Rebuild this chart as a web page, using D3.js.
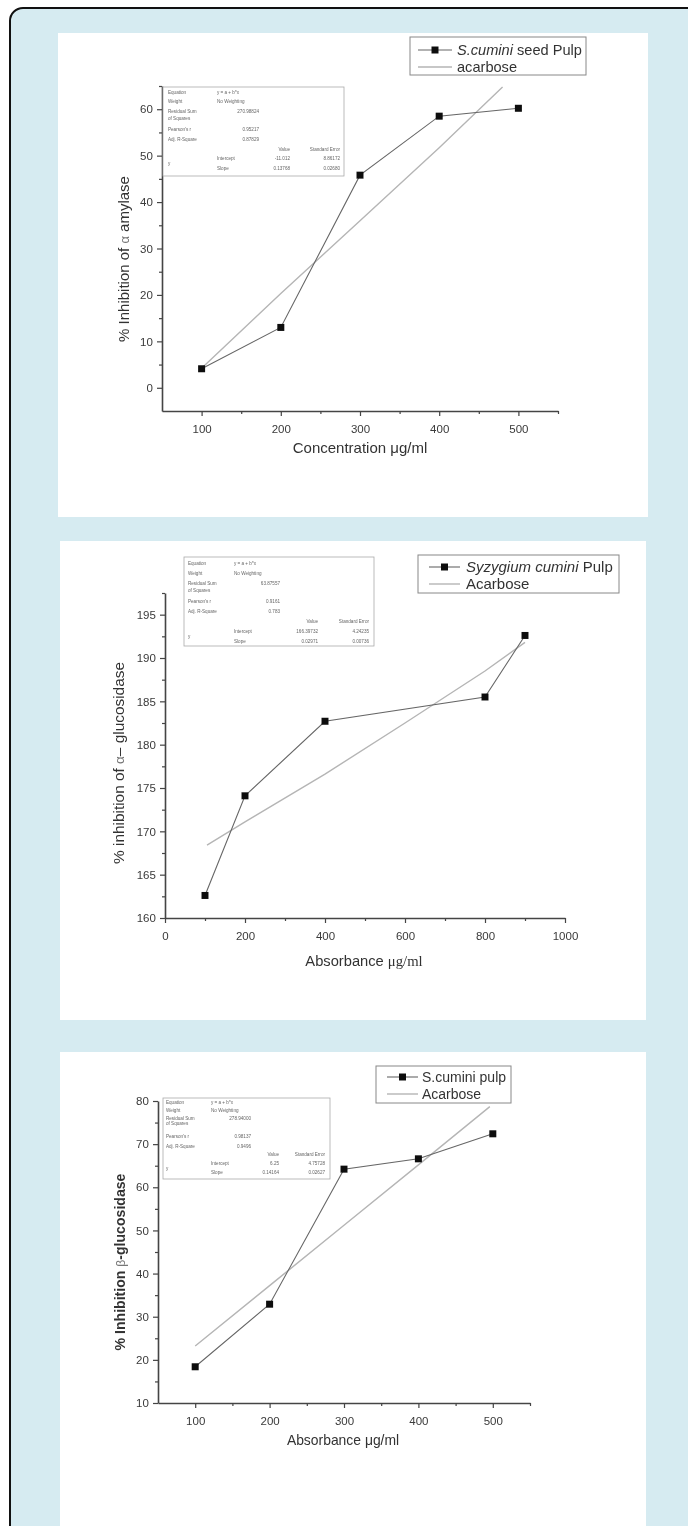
<!DOCTYPE html>
<html>
<head>
<meta charset="utf-8">
<script src="https://cdn.jsdelivr.net/npm/d3@7"></script>
<style>
  body { margin: 0; background: #fff; }
  svg { display: block; }
</style>
</head>
<body>
<div id="chart"></div>
<script>
// ---- data ----
// panel 1 : alpha amylase
var amylaseConc = [100, 200, 300, 400, 500];
var amylaseInhib = [4.1, 13.0, 45.8, 58.5, 60.2];
var amylaseAcarboseX = [100, 200, 300, 400, 480];
var amylaseAcarboseY = [4.2, 20.3, 36.0, 51.7, 64.8];
var amylaseXTicks = [100, 200, 300, 400, 500];
var amylaseYTicks = [0, 10, 20, 30, 40, 50, 60];
var amylaseStats = [
  ["Equation", "y = a + b*x"],
  ["Weight", "No Weighting"],
  ["Residual Sum", "270.98824"],
  ["Pearson's r", "0.95217"],
  ["Adj. R-Square", "0.87829"],
  ["Intercept", "-11.012", "8.86172"],
  ["Slope", "0.13768", "0.02680"]
];

// panel 2 : alpha glucosidase
var alphaConc = [100, 200, 400, 800, 900];
var alphaInhib = [162.6, 174.1, 182.7, 185.5, 192.6];
var alphaAcarboseX = [105, 200, 400, 600, 800, 900];
var alphaAcarboseY = [168.4, 171.1, 176.6, 182.5, 188.5, 191.8];
var alphaXTicks = [0, 200, 400, 600, 800, 1000];
var alphaYTicks = [160, 165, 170, 175, 180, 185, 190, 195];
var alphaStats = [
  ["Equation", "y = a + b*x"],
  ["Weight", "No Weighting"],
  ["Residual Sum", "63.87557"],
  ["Pearson's r", "0.9161"],
  ["Adj. R-Square", "0.783"],
  ["Intercept", "166.39732", "4.24235"],
  ["Slope", "0.02971", "0.00736"]
];

// panel 3 : beta glucosidase
var betaConc = [100, 200, 300, 400, 500];
var betaInhib = [18.4, 32.9, 64.2, 66.6, 72.4];
var betaAcarboseX = [100, 200, 300, 400, 496];
var betaAcarboseY = [23.2, 37.2, 51.2, 65.2, 78.7];
var betaXTicks = [100, 200, 300, 400, 500];
var betaYTicks = [10, 20, 30, 40, 50, 60, 70, 80];
var betaStats = [
  ["Equation", "y = a + b*x"],
  ["Weight", "No Weighting"],
  ["Residual Sum", "278.94000"],
  ["Pearson's r", "0.98137"],
  ["Adj. R-Square", "0.9496"],
  ["Intercept", "6.25", "4.75728"],
  ["Slope", "0.14164", "0.02627"]
];

var W = 688, H = 1526;
var svg = d3.select("#chart").append("svg").attr("width", W).attr("height", H);

// light blue page with rounded black frame (right/bottom run off the picture)
svg.append("rect").attr("width", W).attr("height", H).attr("fill", "#fff");
svg.append("rect")
  .attr("x", 10).attr("y", 8).attr("width", 700).attr("height", 1560)
  .attr("rx", 13).attr("ry", 13)
  .attr("fill", "#d6ebf1").attr("stroke", "#111").attr("stroke-width", 2);

var defs = svg.append("defs");
defs.append("filter").attr("id", "soft")
  .append("feGaussianBlur").attr("stdDeviation", 0.45);

var FONT = "'Liberation Sans', Arial, sans-serif";

function zip(a, b) { return a.map(function (d, i) { return [d, b[i]]; }); }

function drawPanel(cfg) {
  svg.append("rect")
    .attr("x", cfg.box[0]).attr("y", cfg.box[1])
    .attr("width", cfg.box[2]).attr("height", cfg.box[3])
    .attr("fill", "#fff");

  var g = svg.append("g").attr("filter", "url(#soft)");

  var x = d3.scaleLinear().domain(cfg.xDomain).range(cfg.xRange);
  var y = d3.scaleLinear().domain(cfg.yDomain).range(cfg.yRange);

  // minor ticks half way between majors
  var xMinor = [], yMinor = [];
  var xs = cfg.xTicks[1] - cfg.xTicks[0], ys = cfg.yTicks[1] - cfg.yTicks[0];
  for (var v = cfg.xTicks[0] - xs / 2; v <= cfg.xDomain[1]; v += xs)
    if (v > cfg.xDomain[0] && cfg.xTicks.indexOf(v) < 0) xMinor.push(v);
  for (var v2 = cfg.yTicks[0] - ys / 2; v2 <= cfg.yDomain[1]; v2 += ys)
    if (v2 > cfg.yDomain[0] && cfg.yTicks.indexOf(v2) < 0) yMinor.push(v2);

  var xAxis = g.append("g").attr("transform", "translate(0," + cfg.yRange[0] + ")")
    .call(d3.axisBottom(x).tickValues(cfg.xTicks).tickSize(5).tickSizeOuter(0).tickFormat(d3.format("d")));
  g.append("g").attr("transform", "translate(0," + cfg.yRange[0] + ")")
    .call(d3.axisBottom(x).tickValues(xMinor).tickSize(3).tickSizeOuter(0).tickFormat(""))
    .select(".domain").remove();
  var yAxis = g.append("g").attr("transform", "translate(" + cfg.xRange[0] + ",0)")
    .call(d3.axisLeft(y).tickValues(cfg.yTicks).tickSize(5).tickSizeOuter(0).tickFormat(d3.format("d")));
  g.append("g").attr("transform", "translate(" + cfg.xRange[0] + ",0)")
    .call(d3.axisLeft(y).tickValues(yMinor).tickSize(3).tickSizeOuter(0).tickFormat(""))
    .select(".domain").remove();

  g.selectAll(".domain").attr("stroke", "#444").attr("stroke-width", 1.6);
  g.selectAll(".tick line").attr("stroke", "#444").attr("stroke-width", 1.2);
  g.selectAll(".tick text").attr("fill", "#3a3a3a")
    .style("font-family", FONT).style("font-size", "11.5px");
  xAxis.selectAll(".tick text").attr("dy", "1.2em");
  yAxis.selectAll(".tick text").attr("dx", "-0.1em");

  // stats table (Origin fit report)
  var sb = cfg.stats;
  g.append("rect").attr("x", sb.x).attr("y", sb.y).attr("width", sb.w).attr("height", sb.h)
    .attr("fill", "#fff").attr("stroke", "#aaa").attr("stroke-width", 0.8);
  var st = g.append("g").style("font-family", FONT).style("font-size", "4.6px").attr("fill", "#666");
  var r = sb.rows;
  var rows = cfg.statsData;
  st.append("text").attr("x", sb.c1).attr("y", r[0]).text(rows[0][0]);
  st.append("text").attr("x", sb.c2).attr("y", r[0]).text(rows[0][1]);
  st.append("text").attr("x", sb.c1).attr("y", r[1]).text(rows[1][0]);
  st.append("text").attr("x", sb.c2).attr("y", r[1]).text(rows[1][1]);
  st.append("text").attr("x", sb.c1).attr("y", r[2]).text(rows[2][0]);
  st.append("text").attr("x", sb.c1).attr("y", r[3]).text("of Squares");
  st.append("text").attr("x", sb.v1).attr("y", r[2]).attr("text-anchor", "end").text(rows[2][1]);
  st.append("text").attr("x", sb.c1).attr("y", r[4]).text(rows[3][0]);
  st.append("text").attr("x", sb.v1).attr("y", r[4]).attr("text-anchor", "end").text(rows[3][1]);
  st.append("text").attr("x", sb.c1).attr("y", r[5]).text(rows[4][0]);
  st.append("text").attr("x", sb.v1).attr("y", r[5]).attr("text-anchor", "end").text(rows[4][1]);
  st.append("text").attr("x", sb.v2).attr("y", r[6]).attr("text-anchor", "end").text("Value");
  st.append("text").attr("x", sb.v3).attr("y", r[6]).attr("text-anchor", "end").text("Standard Error");
  st.append("text").attr("x", sb.c1).attr("y", (r[7] + r[8]) / 2).text("y");
  [5, 6].forEach(function (k, i) {
    st.append("text").attr("x", sb.c2).attr("y", r[7 + i]).text(rows[k][0]);
    st.append("text").attr("x", sb.v2).attr("y", r[7 + i]).attr("text-anchor", "end").text(rows[k][1]);
    st.append("text").attr("x", sb.v3).attr("y", r[7 + i]).attr("text-anchor", "end").text(rows[k][2]);
  });

  // acarbose reference line
  var line = d3.line().x(function (d) { return x(d[0]); }).y(function (d) { return y(d[1]); });
  g.append("path").datum(zip(cfg.acX, cfg.acY)).attr("d", line)
    .attr("fill", "none").attr("stroke", "#b5b5b5").attr("stroke-width", 1.4);

  // sample line with square markers
  var pts = zip(cfg.dataX, cfg.dataY);
  g.append("path").datum(pts).attr("d", line)
    .attr("fill", "none").attr("stroke", "#666").attr("stroke-width", 1.1);
  g.selectAll(".mk").data(pts).enter().append("rect")
    .attr("x", function (d) { return x(d[0]) - 3.5; })
    .attr("y", function (d) { return y(d[1]) - 3.5; })
    .attr("width", 7).attr("height", 7).attr("fill", "#111");

  // legend
  var lg = cfg.legend;
  g.append("rect").attr("x", lg.x).attr("y", lg.y).attr("width", lg.w).attr("height", lg.h)
    .attr("fill", "#fff").attr("stroke", "#888").attr("stroke-width", 1);
  g.append("line").attr("x1", lg.l0).attr("x2", lg.l1).attr("y1", lg.r1).attr("y2", lg.r1)
    .attr("stroke", "#666").attr("stroke-width", 1.1);
  g.append("rect").attr("x", (lg.l0 + lg.l1) / 2 - 3.5).attr("y", lg.r1 - 3.5)
    .attr("width", 7).attr("height", 7).attr("fill", "#111");
  g.append("line").attr("x1", lg.l0).attr("x2", lg.l1).attr("y1", lg.r2).attr("y2", lg.r2)
    .attr("stroke", "#b5b5b5").attr("stroke-width", 1.4);
  var t1 = g.append("text").attr("x", lg.tx).attr("y", lg.r1 + 5)
    .style("font-family", FONT).style("font-size", lg.fs + "px").attr("fill", "#333");
  lg.label1.forEach(function (p) {
    t1.append("tspan").style("font-style", p[1] ? "italic" : "normal").text(p[0]);
  });
  g.append("text").attr("x", lg.tx).attr("y", lg.r2 + 5)
    .style("font-family", FONT).style("font-size", lg.fs + "px").attr("fill", "#333")
    .text(lg.label2);

  // axis titles
  var xt = g.append("text").attr("x", cfg.xTitle[0]).attr("y", cfg.xTitle[1])
    .attr("text-anchor", "middle").style("font-family", FONT).style("font-size", cfg.titleFs + "px")
    .attr("fill", "#333");
  cfg.xTitleParts.forEach(function (p) {
    xt.append("tspan").style("font-family", p[1] ? "'Liberation Serif', serif" : FONT).text(p[0]);
  });
  var yt = g.append("text")
    .attr("transform", "translate(" + cfg.yTitle[0] + "," + cfg.yTitle[1] + ") rotate(-90)")
    .attr("text-anchor", "middle").style("font-family", FONT).style("font-size", cfg.yTitleFs + "px")
    .style("font-weight", cfg.yBold ? "bold" : "normal").attr("fill", "#333");
  cfg.yTitleParts.forEach(function (p) {
    yt.append("tspan").style("font-weight", p[1] ? "normal" : null)
      .style("font-size", p[1] ? (cfg.yTitleFs - 2) + "px" : null).attr("fill", p[1] ? "#777" : null).text(p[0]);
  });
}

drawPanel({
  box: [58, 33, 590, 484],
  xDomain: [50, 550], xRange: [162, 558],
  yDomain: [-5, 65], yRange: [411, 86],
  xTicks: amylaseXTicks, yTicks: amylaseYTicks,
  dataX: amylaseConc, dataY: amylaseInhib,
  acX: amylaseAcarboseX, acY: amylaseAcarboseY,
  statsData: amylaseStats,
  stats: { x: 163, y: 87, w: 181, h: 89, c1: 168, c2: 217, v1: 259, v2: 290, v3: 340,
           rows: [94, 103, 113, 120, 131, 141, 151, 160, 170] },
  legend: { x: 410, y: 37, w: 176, h: 38, l0: 418, l1: 452, r1: 50, r2: 67, tx: 457, fs: 14.6,
            label1: [["S.cumini", true], [" seed Pulp", false]], label2: "acarbose" },
  titleFs: 15,
  xTitle: [360, 453], xTitleParts: [["Concentration ", false], ["μg/ml", false]],
  yTitleFs: 15,
  yTitle: [129, 259], yTitleParts: [["% Inhibition of ", false], ["α", true], ["  amylase", false]]
});

drawPanel({
  box: [60, 541, 586, 479],
  xDomain: [0, 1000], xRange: [165, 565],
  yDomain: [160, 197.5], yRange: [918, 593],
  xTicks: alphaXTicks, yTicks: alphaYTicks,
  dataX: alphaConc, dataY: alphaInhib,
  acX: alphaAcarboseX, acY: alphaAcarboseY,
  statsData: alphaStats,
  stats: { x: 184, y: 557, w: 190, h: 89, c1: 188, c2: 234, v1: 280, v2: 318, v3: 369,
           rows: [565, 575, 585, 592, 603, 613, 623, 633, 643] },
  legend: { x: 418, y: 555, w: 201, h: 38, l0: 429, l1: 460, r1: 567, r2: 584, tx: 466, fs: 15,
            label1: [["Syzygium cumini", true], [" Pulp", false]], label2: "Acarbose" },
  titleFs: 14.7,
  xTitle: [364, 966], xTitleParts: [["Absorbance ", false], ["μg/ml", true]],
  yTitleFs: 15.4,
  yTitle: [124, 763], yTitleParts: [["% inhibition of ", false], ["α", true], ["– glucosidase", false]]
});

drawPanel({
  box: [60, 1052, 586, 500],
  xDomain: [50, 550], xRange: [158, 530],
  yDomain: [10, 80], yRange: [1403, 1101],
  xTicks: betaXTicks, yTicks: betaYTicks,
  dataX: betaConc, dataY: betaInhib,
  acX: betaAcarboseX, acY: betaAcarboseY,
  statsData: betaStats,
  stats: { x: 163, y: 1098, w: 167, h: 81, c1: 166, c2: 211, v1: 251, v2: 279, v3: 325,
           rows: [1104, 1112, 1120, 1125, 1138, 1148, 1156, 1165, 1174] },
  legend: { x: 376, y: 1066, w: 135, h: 37, l0: 387, l1: 418, r1: 1077, r2: 1094, tx: 422, fs: 14,
            label1: [["S.cumini pulp", false]], label2: "Acarbose" },
  titleFs: 13.9,
  xTitle: [343, 1445], xTitleParts: [["Absorbance ", false], ["μg/ml", false]],
  yTitleFs: 14.1,
  yTitle: [125, 1262], yBold: true,
  yTitleParts: [["% Inhibition ", false], ["β", true], ["-glucosidase", false]]
});
</script>
</body>
</html>
